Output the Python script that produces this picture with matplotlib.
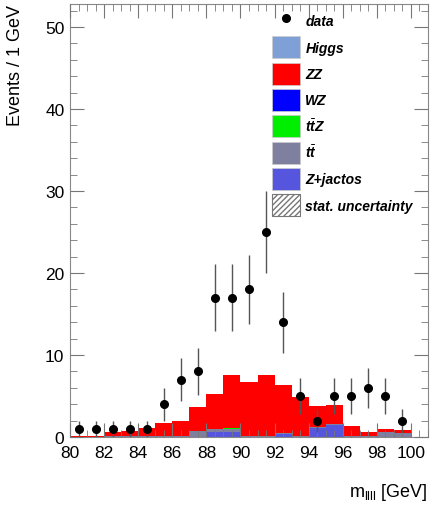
import numpy as np
import matplotlib
matplotlib.use("Agg")
import matplotlib.pyplot as plt
from matplotlib.patches import Patch
from matplotlib.lines import Line2D
from matplotlib.ticker import MultipleLocator

plt.rcParams['font.family'] = ['Liberation Sans', 'DejaVu Sans']
plt.rcParams['mathtext.fontset'] = 'custom'
plt.rcParams['mathtext.it'] = 'Liberation Sans:italic:bold'
plt.rcParams['mathtext.rm'] = 'Liberation Sans'

# 1 GeV bins from 80 to 101
edges = np.arange(80, 102, 1)

zjets = [0, 0, 0, 0, 0, 0, 0, 0, 0.55, 0.6, 0, 0, 0.35, 0, 1.1, 1.5, 0, 0, 0, 0, 0]
ttbar = [0, 0, 0.15, 0.15, 0.15, 0.15, 0.15, 0.75, 0.4, 0.4, 0.12, 0.1, 0.1, 0.15, 0.1, 0.1, 0.15, 0.1, 0.55, 0.45, 0]
ttz = [0, 0, 0, 0, 0, 0, 0, 0, 0.04, 0.04, 0, 0, 0, 0, 0, 0, 0, 0, 0, 0, 0]
wz = [0] * 21
zz = [0.1, 0.1, 0.45, 0.55, 0.95, 1.55, 1.75, 2.85, 4.3, 6.55, 6.6, 7.5, 5.85, 4.75, 2.6, 2.3, 1.25, 0.5, 0.45, 0.35, 0]
higgs = [0] * 21

data_x = np.arange(80.5, 100, 1)
data_y = [1, 1, 1, 1, 1, 4, 7, 8, 17, 17, 18, 25, 14, 5, 2, 5, 5, 6, 5, 2]
data_err = [1, 1, 1, 1, 1, 2, 2.65, 2.83, 4.12, 4.12, 4.24, 5, 3.74, 2.24, 1.41, 2.24, 2.24, 2.45, 2.24, 1.41]

components = [
    (zjets, '#5555dd', 'Z+jactos'),
    (ttbar, '#7f7f9f', r'$t\bar{t}$'),
    (ttz, '#00ee00', r'$t\bar{t}Z$'),
    (wz, '#0000ff', 'WZ'),
    (zz, '#ff0000', 'ZZ'),
    (higgs, '#7f9fd7', 'Higgs'),
]

fig = plt.figure(figsize=(4.3, 5.1), dpi=100)
ax = fig.add_axes([70 / 430, 1 - 438 / 510, 358 / 430, 433 / 510])

bottom = np.zeros(21)
for vals, color, label in components:
    vals = np.array(vals, dtype=float)
    if vals.sum() > 0:
        ax.stairs(bottom + vals, edges, baseline=bottom, fill=True, color=color, lw=0)
    bottom = bottom + vals

ax.errorbar(data_x, data_y, yerr=data_err, fmt='o', color='black', ms=5.5,
            ecolor='#555555', elinewidth=1.0, capsize=0, zorder=5)

ax.set_xlim(80, 101)
ax.set_ylim(0, 52.8)
ax.xaxis.set_major_locator(MultipleLocator(2))
ax.xaxis.set_minor_locator(MultipleLocator(0.5))
ax.yaxis.set_major_locator(MultipleLocator(10))
ax.yaxis.set_minor_locator(MultipleLocator(2))
ax.tick_params(which='both', direction='in', top=True, right=True, color='#777777', labelsize=12.5)
ax.tick_params(which='major', length=10)
ax.tick_params(which='minor', length=5)
ax.tick_params(axis='x', pad=6)
ax.tick_params(axis='y', pad=4)
for s in ax.spines.values():
    s.set_color('#888888')
ax.set_axisbelow(False)

ax.set_ylabel('Events / 1 GeV', loc='top', fontsize=13, labelpad=15)
ax.set_xlabel(r'm$_{\mathregular{llll}}$ [GeV]', loc='right', fontsize=13, labelpad=15)

handles = [Line2D([], [], marker='o', color='black', ls='none', ms=5.5)]
labels = ['data']
for vals, color, label in reversed(components):
    handles.append(Patch(facecolor=color, edgecolor='#cccccc', lw=0.5))
    labels.append(label)
handles.append(Patch(facecolor='white', edgecolor='#777777', hatch='//////', lw=0.8))
labels.append('stat. uncertainty')

leg = ax.legend(handles, labels, loc='upper left', bbox_to_anchor=(272 / 430, 1 - 11 / 510),
                bbox_transform=fig.transFigure, frameon=False, borderpad=0, borderaxespad=0,
                handlelength=2.0, handleheight=2.05, labelspacing=0.32, handletextpad=0.4,
                prop={'size': 10, 'weight': 'bold', 'style': 'italic'})

fig.savefig('out.png', dpi=100)
